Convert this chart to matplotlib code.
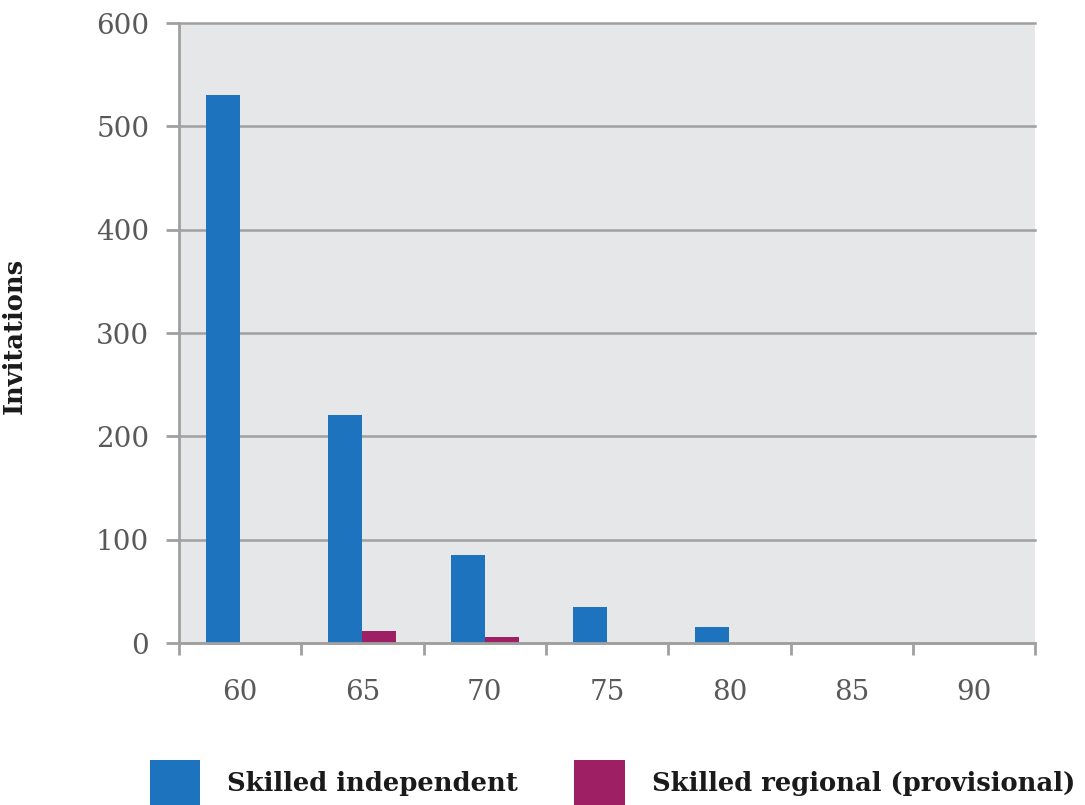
import matplotlib
matplotlib.use("Agg")
import matplotlib.pyplot as plt
from matplotlib.patches import Patch
import numpy as np

categories = ["60", "65", "70", "75", "80", "85", "90"]
skilled_independent = [530, 221, 85, 35, 16, 0, 0]
skilled_regional = [0, 12, 6, 0, 0, 0, 0]
series_names = ["Skilled independent", "Skilled regional (provisional)"]
y_ticks = [0, 100, 200, 300, 400, 500, 600]

blue = "#1E73BE"
magenta = "#9E1F63"
grid_c = "#A0A0A0"
tick_c = "#595959"

plt.rcParams["font.family"] = ["DejaVu Serif"]

fig = plt.figure(figsize=(10.85, 8.05), dpi=100)
ax = fig.add_axes([0.165, 0.2012, 0.789, 0.7702])
ax.set_facecolor("#E6E7E9")

x = np.arange(len(categories))
w = 0.278
ax.bar(x - w / 2, skilled_independent, w, color=blue, zorder=2)
ax.bar(x + w / 2, skilled_regional, w, color=magenta, zorder=2)

ax.set_xlim(-0.5, len(categories) - 0.5)
ax.set_ylim(0, 600)
ax.set_yticks(y_ticks)
ax.set_yticklabels([str(v) for v in y_ticks])
ax.set_xticks(x)
ax.set_xticklabels(categories)
ax.set_xticks(np.arange(len(categories) + 1) - 0.5, minor=True)

ax.yaxis.grid(True, color=grid_c, linewidth=1.8, zorder=0)
for gl in ax.get_ygridlines():
    gl.set_clip_on(False)
ax.set_axisbelow(True)

for s in ["top", "right"]:
    ax.spines[s].set_visible(False)
for s in ["left", "bottom"]:
    ax.spines[s].set_color(grid_c)
    ax.spines[s].set_linewidth(2.0)
    ax.spines[s].set_zorder(3)

ax.tick_params(axis="y", which="major", length=9.4, width=2.0, color=grid_c,
               labelsize=20, labelcolor=tick_c, pad=12)
ax.tick_params(axis="x", which="major", length=0, labelsize=20,
               labelcolor=tick_c, pad=26)
ax.tick_params(axis="x", which="minor", length=8.5, width=2.0, color=grid_c)

ax.set_ylabel("Invitations", fontsize=18.5, fontweight="bold", color="#1A1A1A")
ax.yaxis.set_label_coords(-0.178, 0.495)

handles = [Patch(facecolor=blue, edgecolor="none"),
           Patch(facecolor=magenta, edgecolor="none")]
leg = fig.legend(handles, series_names, loc="lower left",
                 bbox_to_anchor=(0.138, 0.0), ncol=2, frameon=False,
                 prop={"size": 18.6, "weight": "bold"},
                 handlelength=1.95, handleheight=2.3, handletextpad=1.05,
                 columnspacing=2.18, borderpad=0, borderaxespad=0)
for t in leg.get_texts():
    t.set_color("#1A1A1A")

fig.savefig("out.png", dpi=100)
